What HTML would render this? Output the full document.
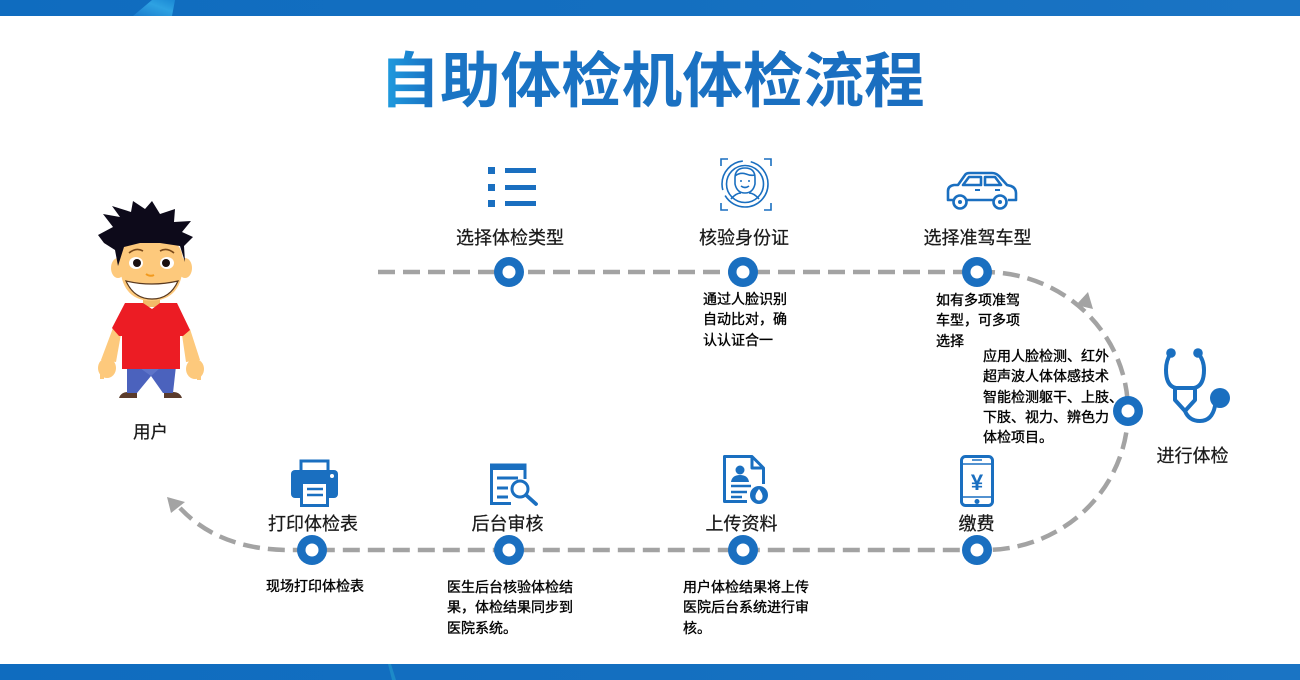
<!DOCTYPE html>
<html>
<head>
<meta charset="utf-8">
<style>
  html,body{margin:0;padding:0;background:#fff;}
  svg{display:block;}
  text{font-family:"Liberation Sans","Noto Sans CJK SC",sans-serif;}
  .lbl{font-size:18px;fill:#1a1a1a;text-anchor:middle;stroke:#1a1a1a;stroke-width:0.25;}
  .dsc{font-size:14px;fill:#000;stroke:#000;stroke-width:0.35;}
</style>
</head>
<body>
<svg width="1300" height="680" viewBox="0 0 1300 680" xmlns="http://www.w3.org/2000/svg">
  <defs>
    <linearGradient id="bar" x1="0" y1="0" x2="1" y2="0">
      <stop offset="0" stop-color="#0f6cbf"/>
      <stop offset="0.5" stop-color="#146fc0"/>
      <stop offset="1" stop-color="#1a74c4"/>
    </linearGradient>
    <linearGradient id="streak" x1="0" y1="1" x2="1" y2="0">
      <stop offset="0" stop-color="#1b7cce"/>
      <stop offset="0.6" stop-color="#2ea2e2"/>
      <stop offset="1" stop-color="#1a88d4"/>
    </linearGradient>
    <linearGradient id="title" gradientUnits="userSpaceOnUse" x1="380" y1="0" x2="925" y2="0">
      <stop offset="0" stop-color="#1fa0e2"/>
      <stop offset="0.09" stop-color="#1a74c4"/>
      <stop offset="1" stop-color="#1a6ec0"/>
    </linearGradient>
  </defs>

  <!-- top / bottom bars -->
  <rect x="0" y="0" width="1300" height="16" fill="url(#bar)"/>
  <polygon points="133,16 152,0 175,0 172,16" fill="url(#streak)"/>
  <rect x="0" y="664" width="1300" height="16" fill="url(#bar)"/>
  <polygon points="388,664 391,664 396,680 392,680" fill="#27a6cf" opacity="0.5"/>

  <!-- title -->
  <text x="652" y="102" font-size="60" font-weight="700" text-anchor="middle" fill="url(#title)" textLength="545" lengthAdjust="spacingAndGlyphs">自助体检机体检流程</text>

  <!-- dashed flow path -->
  <path d="M378 272 L985 272 A143 139 0 0 1 985 550 L290 550 C250 550 210 540 180 508"
        fill="none" stroke="#a3a3a3" stroke-width="4.5" stroke-dasharray="17 8"/>
  <!-- arrowheads -->
  <polygon points="1093,309 1076,305 1088,292" fill="#a3a3a3"/>
  <polygon points="167,497 171,513 185,502" fill="#a3a3a3"/>

  <!-- node circles -->
  <g fill="#1a6fc0">
    <circle cx="509" cy="272" r="15"/>
    <circle cx="743" cy="272" r="15"/>
    <circle cx="977" cy="272" r="15"/>
    <circle cx="1128" cy="411" r="15"/>
    <circle cx="977" cy="550" r="15"/>
    <circle cx="743" cy="550" r="15"/>
    <circle cx="509" cy="550" r="15"/>
    <circle cx="312" cy="550" r="15"/>
  </g>
  <g fill="#fff">
    <circle cx="509" cy="272" r="6.5"/>
    <circle cx="743" cy="272" r="6.5"/>
    <circle cx="977" cy="272" r="6.5"/>
    <circle cx="1128" cy="411" r="6.5"/>
    <circle cx="977" cy="550" r="6.5"/>
    <circle cx="743" cy="550" r="6.5"/>
    <circle cx="509" cy="550" r="6.5"/>
    <circle cx="312" cy="550" r="6.5"/>
  </g>

  <!-- ICONS -->
  <!-- list icon -->
  <g fill="#1a6fc0">
    <rect x="488" y="167" width="7" height="7"/>
    <rect x="488" y="184" width="7" height="7"/>
    <rect x="488" y="200" width="7" height="7"/>
    <rect x="505" y="168" width="31" height="5"/>
    <rect x="505" y="185" width="31" height="5"/>
    <rect x="505" y="201" width="31" height="5"/>
  </g>

  <!-- face recognition icon -->
  <g fill="none" stroke="#1a6fc0" stroke-width="1.6">
    <path d="M721 166 V159 H728"/>
    <path d="M764 159 H771 V166"/>
    <path d="M721 203 V210 H728"/>
    <path d="M764 210 H771 V203"/>
    <circle cx="745" cy="184" r="23" stroke-dasharray="60 6 40 8"/>
    <circle cx="745" cy="184" r="18.5"/>
    <path d="M735 178 Q735 168 745 168 Q755 168 755 178 L755 184 Q753 193 745 193 Q737 193 735 184 Z"/>
    <path d="M735 176 Q740 172 746 174 Q751 176 755 175"/>
    <path d="M731 199 Q736 193 741 193 M749 193 Q754 193 759 199"/>
    <path d="M741 186 Q745 189 749 186"/>
  </g>
  <g fill="#1a6fc0"><circle cx="741" cy="181" r="1"/><circle cx="749" cy="181" r="1"/></g>

  <!-- car icon -->
  <g fill="none" stroke="#1a6fc0" stroke-width="2.6" stroke-linejoin="round">
    <path d="M953 200 H948 V191 Q948 186 954 185 L958 185 L965 175 Q966 173 970 173 L992 173 Q996 173 999 176 L1007 185 L1011 186 Q1016 188 1016 193 L1016 200 H1008"/>
    <path d="M967 200 H993"/>
    <path d="M963 185 L969 177 H981 V185 Z"/>
    <path d="M985 177 H995 L1001 185 H985 Z"/>
    <circle cx="960" cy="202" r="6.5" fill="#fff"/>
    <circle cx="1000" cy="202" r="6.5" fill="#fff"/>
  </g>
  <g fill="#1a6fc0">
    <circle cx="960" cy="202" r="2"/>
    <circle cx="1000" cy="202" r="2"/>
    <rect x="975" y="189" width="5" height="2"/>
    <rect x="995" y="189" width="5" height="2"/>
  </g>

  <!-- stethoscope -->
  <g fill="none" stroke="#1a6fc0" stroke-width="4" stroke-linejoin="round" stroke-linecap="round">
    <path d="M1171 353 Q1166 360 1166 370 Q1166 386 1176 388"/>
    <path d="M1198 353 Q1204 360 1204 370 Q1204 386 1194 388"/>
    <path d="M1175 388 H1195 V400 L1185 411 L1175 400 Z"/>
    <path d="M1185 411 Q1189 421 1200 421 Q1212 421 1215 406"/>
  </g>
  <g fill="#1a6fc0">
    <circle cx="1171" cy="353" r="4.8"/>
    <circle cx="1198" cy="353" r="4.8"/>
    <circle cx="1220" cy="398" r="10"/>
  </g>

  <!-- printer -->
  <g>
    <rect x="301" y="461" width="27" height="12" fill="#fff" stroke="#1a6fc0" stroke-width="3"/>
    <rect x="291" y="470" width="47" height="28" rx="4" fill="#1a6fc0"/>
    <rect x="301.5" y="482.5" width="26" height="23" fill="#fff" stroke="#1a6fc0" stroke-width="3"/>
    <path d="M307 489 H323 M307 495 H323" stroke="#1a6fc0" stroke-width="2.6"/>
    <circle cx="332" cy="476" r="2" fill="#fff"/>
  </g>

  <!-- doc search icon -->
  <g fill="none" stroke="#1a6fc0" stroke-width="3">
    <path d="M525 479 V465 H491.5 V503.5 H511"/>
    <path d="M497 478 H518 M497 488 H508 M497 497 H508"/>
    <circle cx="520" cy="489" r="8"/>
    <path d="M526 495 L536 504" stroke-width="3.8" stroke-linecap="round"/>
  </g>
  <rect x="491" y="464" width="34" height="6" fill="#1a6fc0"/>

  <!-- upload document icon -->
  <g fill="none" stroke="#1a6fc0" stroke-width="3" stroke-linejoin="round">
    <path d="M747 501.5 H724.5 V456.5 H752 L763.5 468 V484"/>
    <path d="M752 456.5 V468 H763.5"/>
    <path d="M731 486 H751 M731 492 H747 M731 497 H742" stroke-width="2.6"/>
  </g>
  <g fill="#1a6fc0">
    <circle cx="740" cy="470" r="4.5"/>
    <path d="M731 482 Q732 475 740 475 Q748 475 749 482 Z"/>
    <circle cx="759" cy="495" r="9"/>
  </g>
  <path d="M759 489 Q763 494 762.5 497 A3.5 3.5 0 0 1 755.5 497 Q755 494 759 489 Z" fill="#fff"/>

  <!-- phone icon -->
  <g fill="none" stroke="#1a6fc0">
    <rect x="961.5" y="456.5" width="31" height="49" rx="4" stroke-width="3"/>
    <path d="M963 464 H991 M963 497 H991" stroke-width="1.5"/>
    <path d="M972 460 H982" stroke-width="1.5"/>
  </g>
  <circle cx="977" cy="501.5" r="2.5" fill="#1a6fc0"/>
  <text x="977" y="490" font-size="22" font-weight="700" fill="#1a6fc0" text-anchor="middle" style="font-family:'Liberation Sans',sans-serif">¥</text>

  <!-- BOY -->
  <g>
    <!-- arms -->
    <polygon points="113,328 121,334 116,362 101,360" fill="#fdc97c"/>
    <polygon points="190,329 182,335 186,362 200,360" fill="#fdc97c"/>
    <ellipse cx="107" cy="368" rx="9" ry="10" fill="#fdc97c"/>
    <ellipse cx="195" cy="369" rx="9" ry="10" fill="#fdc97c"/>
    <rect x="100" y="373" width="4" height="6" fill="#fdc97c"/>
    <rect x="197" y="374" width="4" height="6" fill="#fdc97c"/>
    <!-- shoes -->
    <path d="M119 398 Q121 392 128 392 H137 V398 Z" fill="#5a3b2b"/>
    <path d="M164 398 V392 H173 Q180 392 182 398 Z" fill="#5a3b2b"/>
    <!-- pants -->
    <polygon points="127,366 176,366 173,393 163,393 151,376 137,393 127,393" fill="#4b62bd"/>
    <polygon points="140,368 160,368 151,376" fill="#6b80d0" opacity="0.6"/>
    <!-- neck -->
    <rect x="143" y="295" width="17" height="12" fill="#f3b968"/>
    <!-- shirt -->
    <polygon points="125,303 143,303 152,309 160,303 177,303 190,330 183,336 180,336 180,369 122,369 122,336 119,336 112,328" fill="#ec1c24"/>
    <!-- ears -->
    <ellipse cx="118" cy="268" rx="7" ry="10" fill="#fdc97c"/>
    <ellipse cx="185" cy="268" rx="7" ry="10" fill="#fdc97c"/>
    <!-- face -->
    <path d="M120 262 Q120 236 151 236 Q183 236 183 262 Q183 300 151 301 Q120 300 120 262 Z" fill="#fdc97c"/>
    <!-- hair -->
    <polygon fill="#0d0a1a" points="98,235 113,227 103,214 120,217 112,206 131,212 133,201 145,209 152,201 160,214 175,209 174,222 191,221 182,232 193,237 184,246 185,262 180,246 160,243 140,243 124,247 118,266 115,250 104,243"/>
    <!-- eyebrows -->
    <path d="M129 253 Q136 247 143 251" stroke="#7a4a1a" stroke-width="1.6" fill="none"/>
    <path d="M160 251 Q167 247 174 253" stroke="#7a4a1a" stroke-width="1.6" fill="none"/>
    <!-- eyes -->
    <ellipse cx="136" cy="263" rx="7" ry="6" fill="#fff"/>
    <ellipse cx="167" cy="263" rx="7" ry="6" fill="#fff"/>
    <circle cx="137" cy="263" r="4" fill="#1a1010"/>
    <circle cx="166" cy="263" r="4" fill="#1a1010"/>
    <!-- nose -->
    <path d="M146 274 Q150 277 154 275" stroke="#f29a1e" stroke-width="2" fill="none"/>
    <!-- mouth -->
    <path d="M126 281 Q152 287 178 281 Q170 299 152 299 Q134 299 126 281 Z" fill="#fff" stroke="#5a3a20" stroke-width="1.2"/>
  </g>

  <!-- LABELS -->
  <text class="lbl" x="510" y="244">选择体检类型</text>
  <text class="lbl" x="744" y="244">核验身份证</text>
  <text class="lbl" x="977.5" y="244">选择准驾车型</text>
  <text class="lbl" x="1192.5" y="462">进行体检</text>
  <text class="lbl" x="150.5" y="438" style="font-size:17.5px">用户</text>
  <text class="lbl" x="313" y="530">打印体检表</text>
  <text class="lbl" x="507.5" y="530">后台审核</text>
  <text class="lbl" x="741.5" y="530">上传资料</text>
  <text class="lbl" x="976.5" y="530">缴费</text>

  <!-- DESCRIPTIONS -->
  <text class="dsc" x="703" y="304">通过人脸识别</text>
  <text class="dsc" x="703" y="324">自动比对，确</text>
  <text class="dsc" x="703" y="345">认认证合一</text>

  <text class="dsc" x="936" y="305">如有多项准驾</text>
  <text class="dsc" x="936" y="325">车型，可多项</text>
  <text class="dsc" x="936" y="346">选择</text>

  <text class="dsc" x="983" y="361">应用人脸检测、红外</text>
  <text class="dsc" x="983" y="381">超声波人体体感技术</text>
  <text class="dsc" x="983" y="402">智能检测躯干、上肢、</text>
  <text class="dsc" x="983" y="422">下肢、视力、辨色力</text>
  <text class="dsc" x="983" y="442">体检项目。</text>

  <text class="dsc" x="266" y="591">现场打印体检表</text>

  <text class="dsc" x="447" y="592">医生后台核验体检结</text>
  <text class="dsc" x="447" y="612">果，体检结果同步到</text>
  <text class="dsc" x="447" y="633">医院系统。</text>

  <text class="dsc" x="683" y="592">用户体检结果将上传</text>
  <text class="dsc" x="683" y="612">医院后台系统进行审</text>
  <text class="dsc" x="683" y="633">核。</text>
</svg>
</body>
</html>
